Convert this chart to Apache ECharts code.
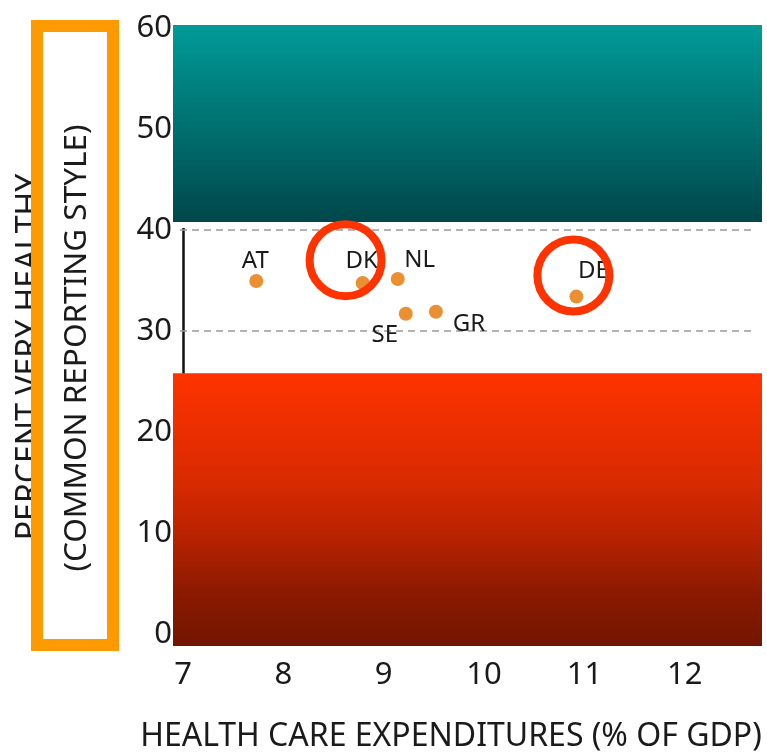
<!DOCTYPE html>
<html>
<head>
<meta charset="utf-8">
<script src="https://cdn.jsdelivr.net/npm/echarts@6/dist/echarts.min.js"></script>
<style>
html,body{margin:0;padding:0;background:#fff;}
#chart{width:767px;height:755px;}
</style>
</head>
<body>
<div id="chart"></div>
<script>
// ---- data ----
const countries = ['AT', 'DK', 'NL', 'SE', 'GR', 'DE'];
const expenditure = [7.73, 8.79, 9.14, 9.22, 9.52, 10.92];      // % of GDP
const veryHealthy = [34.95, 34.75, 35.15, 31.7, 31.9, 33.4];     // percent very healthy
const xTicks = [7, 8, 9, 10, 11, 12];
const yTicks = [0, 10, 20, 30, 40, 50, 60];
const xRange = [6.9, 12.77];
const yRange = [-1.2, 60.3];
const lowBand = [-1.2, 25.8];
const highBand = [40.8, 60.3];
const gridValues = [30, 40];
const highlightNames = ['DK', 'DE'];
const highlightX = [8.62, 10.89];
const highlightY = [37.0, 35.5];
const xTitle = 'HEALTH CARE EXPENDITURES (% OF GDP)';
const yTitle = 'PERCENT VERY HEALTHY';
const yNote = '(COMMON REPORTING STYLE)';

// ---- styles ----
const FONT = 'Noto Sans';
const labelOffsets = {
  AT: [-1, -20], DK: [-1, -22], NL: [22, -19],
  SE: [-21, 21], GR: [33, 12], DE: [17, -25]
};

const chart = echarts.init(document.getElementById('chart'), null, {renderer: 'canvas'});

const pointData = countries.map((c, i) => ({
  name: c,
  value: [expenditure[i], veryHealthy[i]],
  label: {offset: labelOffsets[c]}
}));

const option = {
  animation: false,
  backgroundColor: '#fff',
  grid: {left: 173, right: 5, top: 25, bottom: 109, containLabel: false},
  xAxis: {
    type: 'value', min: xRange[0], max: xRange[1],
    axisLine: {show: false}, axisTick: {show: false}, splitLine: {show: false},
    axisLabel: {customValues: xTicks, margin: 14, color: '#1a1a1a', fontFamily: FONT, fontSize: 31}
  },
  yAxis: {
    type: 'value', min: yRange[0], max: yRange[1],
    axisLine: {show: false}, axisTick: {show: false}, splitLine: {show: false},
    axisLabel: {customValues: yTicks, margin: 1, color: '#1a1a1a', fontFamily: FONT, fontSize: 31}
  },
  graphic: [
    {type: 'text', x: 30, y: 357, rotation: Math.PI / 2, z: 1,
     style: {text: yTitle, fill: '#1a1a1a', font: '32px "' + FONT + '"', textAlign: 'center', textVerticalAlign: 'middle'}},
    {type: 'rect', z: 2, shape: {x: 37, y: 26, width: 76, height: 619},
     style: {fill: '#fff', stroke: '#FF9900', lineWidth: 12}},
    {type: 'text', x: 77, y: 348, rotation: Math.PI / 2, z: 3,
     style: {text: yNote, fill: '#1a1a1a', font: '31.5px "' + FONT + '"', textAlign: 'center', textVerticalAlign: 'middle'}},
    {type: 'text', x: 451, y: 737, z: 3,
     style: {text: xTitle, fill: '#1a1a1a', font: '32px "' + FONT + '"', textAlign: 'center', textVerticalAlign: 'middle'}}
  ],
  series: [
    {
      name: 'lines', type: 'scatter', data: [], z: 1, silent: true,
      markLine: {
        silent: true, symbol: 'none', animation: false,
        label: {show: false},
        data: [
          [{coord: [xTicks[0], lowBand[1]], lineStyle: {color: '#111', width: 2.5, type: 'solid', opacity: 1}},
           {coord: [xTicks[0], gridValues[1] + 0.2]}],
          ...gridValues.map(v => [
            {coord: [6.97, v], lineStyle: {color: '#9a9a9a', width: 1.6, type: [7, 5], opacity: 1}},
            {coord: [xRange[1] - 0.08, v]}
          ])
        ]
      }
    },
    {
      name: 'bands', type: 'scatter', data: [], z: 2, silent: true,
      markArea: {
        silent: true, animation: false,
        data: [
          [{coord: [xRange[0], highBand[1]],
            itemStyle: {opacity: 1, color: new echarts.graphic.LinearGradient(0, 0, 0, 1, [
              {offset: 0, color: '#009B98'}, {offset: 1, color: '#00474B'}])}},
           {coord: [xRange[1], highBand[0]]}],
          [{coord: [xRange[0], lowBand[1]],
            itemStyle: {opacity: 1, color: new echarts.graphic.LinearGradient(0, 0, 0, 1, [
              {offset: 0, color: '#FF3300'}, {offset: 0.4, color: '#D82A00'}, {offset: 0.6, color: '#B82200'},
              {offset: 0.8, color: '#8C1A00'}, {offset: 1, color: '#721500'}])}},
           {coord: [xRange[1], lowBand[0]]}]
        ]
      }
    },
    {
      name: 'countries', type: 'scatter', z: 5,
      symbol: 'circle', symbolSize: 14,
      itemStyle: {color: '#EA9033', opacity: 1},
      label: {
        show: true, position: 'inside', formatter: '{b}',
        color: '#1a1a1a', fontFamily: FONT, fontSize: 24
      },
      data: pointData
    },
    {
      name: 'highlight', type: 'scatter', z: 6, silent: true,
      symbol: 'circle', symbolSize: 72,
      itemStyle: {color: 'rgba(0,0,0,0)', borderColor: '#FF3300', borderWidth: 8, opacity: 1},
      data: highlightNames.map((n, i) => ({name: n, value: [highlightX[i], highlightY[i]]}))
    }
  ]
};
chart.setOption(option);
</script>
</body>
</html>
